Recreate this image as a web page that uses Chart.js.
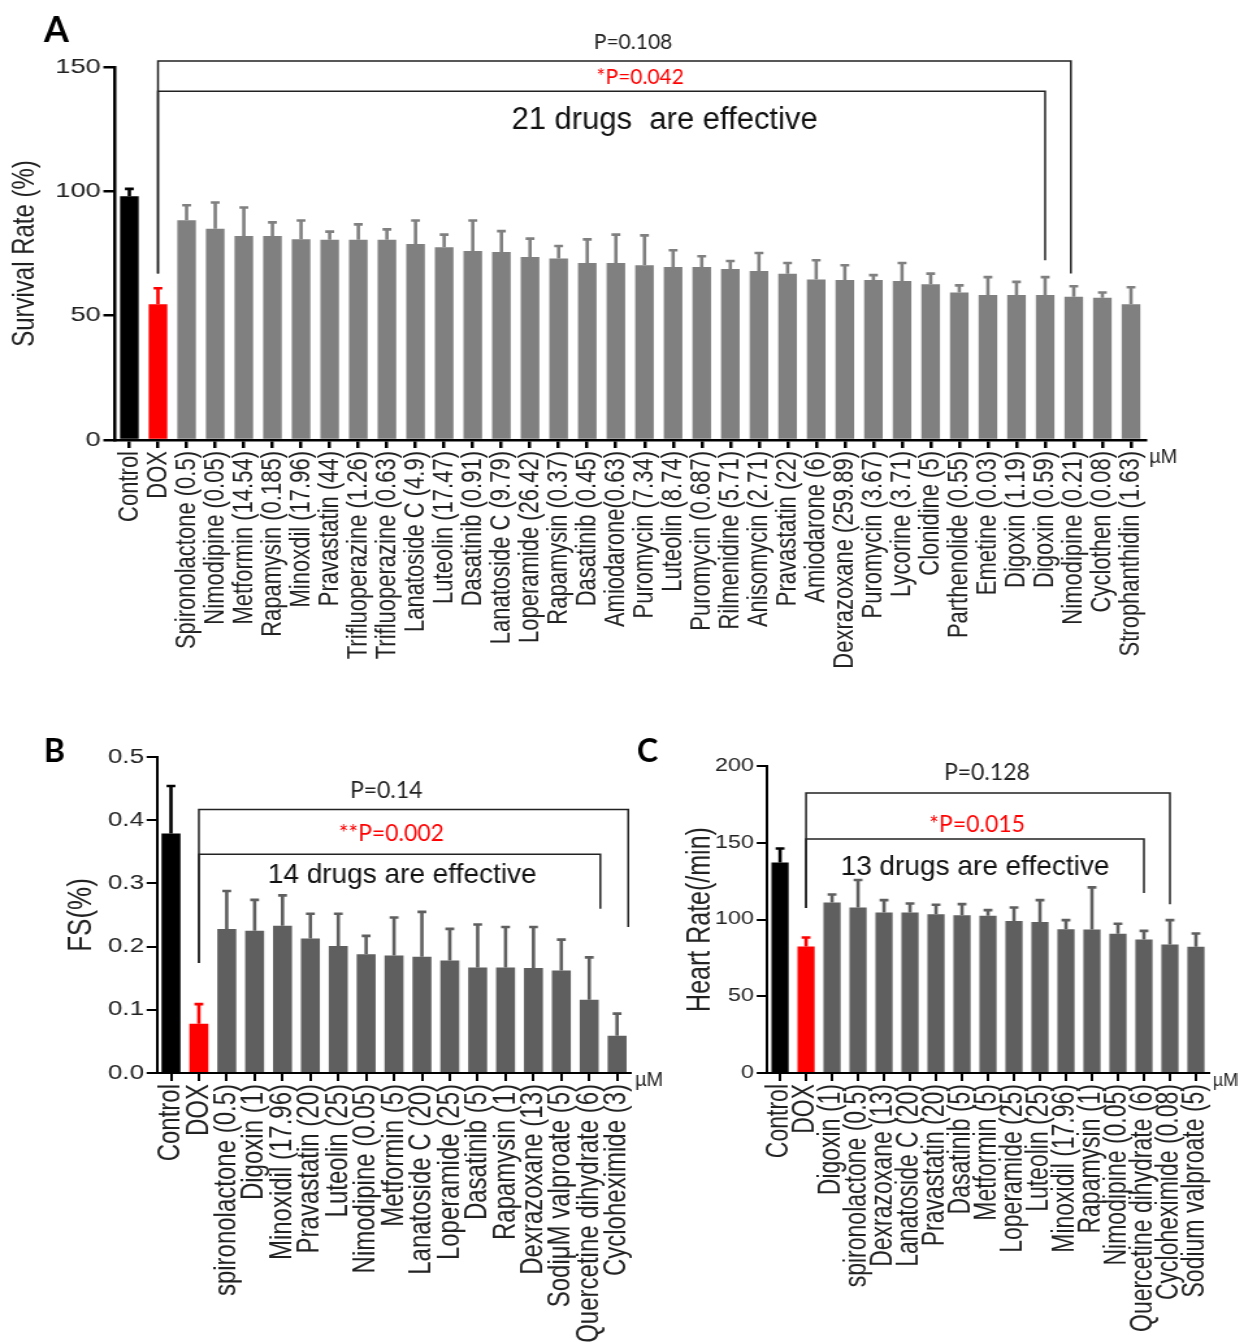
<!DOCTYPE html>
<html>
<head>
<meta charset="utf-8">
<title>Drug screen - survival, FS and heart rate</title>
<script src="https://cdn.jsdelivr.net/npm/chart.js@4.4.0/dist/chart.umd.min.js"></script>
<style>
  body { margin: 0; background: #fff; }
  #wrap { position: relative; width: 1238px; height: 1342px; overflow: hidden; background: #fff; }
  /* the original figure is stretched sideways, so the canvases are too */
  canvas { position: absolute; transform: scaleX(1.3); transform-origin: 0 0; }
</style>
</head>
<body>
<div id="wrap">
  <canvas id="chartA" width="952" height="700" style="left:0px;top:0px"></canvas>
  <canvas id="chartB" width="538" height="642" style="left:0px;top:700px"></canvas>
  <canvas id="chartC" width="475" height="642" style="left:620px;top:700px"></canvas>
</div>
<script>
const S = 1.3; // horizontal stretch set in the css above

// ---- panel A : survival rate ----
const labelsA = ['Control', 'DOX', 'Spironolactone (0.5)', 'Nimodipine (0.05)', 'Metformin (14.54)',
  'Rapamysin (0.185)', 'Minoxdil (17.96)', 'Pravastatin (44)', 'Trifluoperazine (1.26)',
  'Trifluoperazine (0.63)', 'Lanatoside C (4.9)', 'Luteolin (17.47)', 'Dasatinib (0.91)',
  'Lanatoside C (9.79)', 'Loperamide (26.42)', 'Rapamysin (0.37)', 'Dasatinib (0.45)',
  'Amiodarone(0.63)', 'Puromycin (7.34)', 'Luteolin (8.74)', 'Puromycin (0.687)',
  'Rilmenidine (5.71)', 'Anisomycin (2.71)', 'Pravastatin (22)', 'Amiodarone (6)',
  'Dexrazoxane (259.89)', 'Puromycin (3.67)', 'Lycorine (3.71)', 'Clonidine (5)',
  'Parthenolide (0.55)', 'Emetine (0.03)', 'Digoxin (1.19)', 'Digoxin (0.59)',
  'Nimodipine (0.21)', 'Cyclothen (0.08)', 'Strophanthidin (1.63)'];
const survivalA = [98, 54.6, 88.4, 85, 82, 82, 80.7, 80.5, 80.5, 80.5, 78.8, 77.5, 76, 75.6, 73.6, 73,
  71.2, 71.2, 70.3, 69.6, 69.6, 68.8, 68, 66.9, 64.5, 64.3, 64.3, 63.9, 62.6, 59.3, 58.3, 58.3, 58.3,
  57.6, 57.2, 54.6];
const survivalSdA = [3, 6.4, 6, 10.5, 11.5, 5.5, 7.6, 3.3, 6.2, 4.2, 9.5, 5.1, 12.3, 8.4, 7.4, 5,
  9.5, 11.4, 12, 6.7, 4.3, 3.2, 7.2, 4.3, 7.8, 6, 2, 7.3, 4.3, 2.9, 7.2, 5.3, 7.2, 4.2, 2.1, 6.8];
const ticksA = [0, 50, 100, 150];

// ---- panel B : fractional shortening ----
const labelsB = ['Control', 'DOX', 'spironolactone (0.5)', 'Digoxin (1)', 'Minoxidil (17.96)',
  'Pravastatin (20)', 'Luteolin (25)', 'Nimodipine (0.05)', 'Metformin (5)', 'Lanatoside C (20)',
  'Loperamide (25)', 'Dasatinib (5)', 'Rapamysin (1)', 'Dexrazoxane (13)', 'SodiμM valproate (5)',
  'Quercetine dihydrate (6)', 'Cycloheximide (3)'];
const fsB = [0.379, 0.078, 0.228, 0.225, 0.233, 0.213, 0.201, 0.188, 0.186, 0.184, 0.178, 0.167,
  0.167, 0.166, 0.162, 0.116, 0.059];
const fsSdB = [0.075, 0.031, 0.06, 0.049, 0.048, 0.039, 0.051, 0.029, 0.06, 0.071, 0.05, 0.068,
  0.064, 0.065, 0.049, 0.067, 0.035];
const ticksB = [0, 0.1, 0.2, 0.3, 0.4, 0.5];

// ---- panel C : heart rate ----
const labelsC = ['Control', 'DOX', 'Digoxin (1)', 'spironolactone (0.5)', 'Dexrazoxane (13)',
  'Lanatoside C (20)', 'Pravastatin (20)', 'Dasatinib (5)', 'Metformin (5)', 'Loperamide (25)',
  'Luteolin (25)', 'Minoxidil (17.96)', 'Rapamysin (1)', 'Nimodipine (0.05)',
  'Quercetine dihydrate (6)', 'Cycloheximide (0.08)', 'Sodium valproate (5)'];
const heartC = [137.2, 82.4, 111.1, 107.8, 104.6, 104.6, 103.5, 102.8, 102.4, 99.1, 98.3, 93.7,
  93.5, 90.7, 87, 83.7, 82.2];
const heartSdC = [9.1, 5.9, 5.2, 17.9, 8, 5.8, 6.1, 7.2, 3.7, 8.7, 14.3, 5.9, 27.4, 6.5, 5.6, 15.9, 8.7];
const ticksC = [0, 50, 100, 150, 200];

// comparison brackets: [from bar, to bar, level, left drop, right drop]
const bracketsA = [[1, 32.9, 152.4, 67, 67], [1, 32, 140.2, 67, 72.3]];
const bracketsB = [[1, 16.4, 0.417, 0.174, 0.231], [1, 15.4, 0.346, 0.174, 0.26]];
const bracketsC = [[1, 15, 182.4, 107.5, 110], [1, 14, 152.4, 107.5, 117.3]];

const notesA = ['P=0.108', '*P=0.042', '21 drugs  are effective'];
const notesB = ['P=0.14', '**P=0.002', '14 drugs are effective'];
const notesC = ['P=0.128', '*P=0.015', '13 drugs are effective'];

Chart.defaults.font.family = '"Liberation Sans", Arial, sans-serif';
Chart.defaults.color = '#222';

// text drawn here was not stretched in the original, so undo the css stretch
function plainText(ctx, t, x, y) {
  ctx.save();
  ctx.translate(x, y);
  ctx.scale(1 / S, 1);
  ctx.fillText(t, 0, 0);
  ctx.restore();
}

function makePanel(id, p) {
  const colors = p.values.map((v, i) => i === 0 ? '#000000' : (i === 1 ? '#ff0000' : p.gray));

  const extras = {
    id: 'extras',
    afterDatasetsDraw(chart) {
      const ctx = chart.ctx;
      const y = chart.scales.y;
      const meta = chart.getDatasetMeta(0);
      ctx.save();
      ctx.lineWidth = 2.6;
      meta.data.forEach((bar, i) => {
        const top = y.getPixelForValue(p.values[i] + p.sd[i]);
        ctx.strokeStyle = colors[i];
        ctx.beginPath();
        ctx.moveTo(bar.x, bar.y);
        ctx.lineTo(bar.x, top);
        ctx.moveTo(bar.x - 3.4, top);
        ctx.lineTo(bar.x + 3.4, top);
        ctx.stroke();
      });
      ctx.restore();
    },
    afterDraw(chart) {
      const ctx = chart.ctx;
      const x = chart.scales.x;
      const y = chart.scales.y;
      const area = chart.chartArea;
      ctx.save();
      // brackets
      ctx.strokeStyle = '#222';
      ctx.lineWidth = 1.5;
      p.brackets.forEach(b => {
        const x0 = x.getPixelForValue(b[0]);
        const x1 = x.getPixelForValue(b[1]);
        const yl = y.getPixelForValue(b[2]);
        ctx.beginPath();
        ctx.moveTo(x0, y.getPixelForValue(b[3]));
        ctx.lineTo(x0, yl);
        ctx.lineTo(x1, yl);
        ctx.lineTo(x1, y.getPixelForValue(b[4]));
        ctx.stroke();
      });
      // p values and summary text
      ctx.textAlign = 'center';
      ctx.textBaseline = 'middle';
      p.notes.forEach((t, i) => {
        const pos = p.notePos[i];
        if (i === 2) {
          ctx.font = p.bigFont + 'px "Liberation Sans", Arial';
          ctx.fillStyle = '#111';
        } else {
          ctx.font = p.pFont + 'px Lato, "Open Sans"';
          ctx.fillStyle = i === 1 ? '#ff0000' : '#222';
        }
        plainText(ctx, t, x.getPixelForValue(pos[0]), y.getPixelForValue(pos[1]));
      });
      // unit at end of x axis
      ctx.font = p.unitFont + 'px "Liberation Sans", Arial';
      ctx.fillStyle = '#222';
      ctx.textAlign = 'left';
      plainText(ctx, 'µM', area.right + 3, area.bottom + p.unitDy);
      // panel letter
      ctx.font = 'bold ' + p.letterSize + 'px Lato, "Open Sans"';
      ctx.fillStyle = '#000';
      ctx.textBaseline = 'alphabetic';
      plainText(ctx, p.letter, p.letterAt[0] / S, p.letterAt[1]);
      ctx.restore();
    }
  };

  return new Chart(document.getElementById(id), {
    type: 'bar',
    data: {
      labels: p.labels,
      datasets: [{
        data: p.values,
        backgroundColor: colors,
        borderWidth: 0,
        barPercentage: 1,
        categoryPercentage: p.barFrac
      }]
    },
    options: {
      responsive: false,
      animation: false,
      devicePixelRatio: 1,
      layout: { padding: p.pad },
      plugins: { legend: { display: false }, tooltip: { enabled: false } },
      scales: {
        x: {
          grid: { offset: false, drawOnChartArea: false, tickLength: 8, color: '#000', lineWidth: p.axisW },
          border: { color: '#000', width: p.axisW },
          ticks: { autoSkip: false, minRotation: 90, maxRotation: 90, padding: 3,
                   font: { size: p.xFont }, color: '#222' },
          afterFit(s) { s.height = p.xHeight; }
        },
        y: {
          min: 0,
          max: p.ticks[p.ticks.length - 1],
          afterBuildTicks(s) { s.ticks = p.ticks.map(v => ({ value: v })); },
          grid: { drawOnChartArea: false, tickLength: p.yTick, color: '#000', lineWidth: p.axisW },
          border: { color: '#000', width: p.axisW },
          ticks: { padding: 2, font: { size: p.yFont }, color: '#222',
                   callback: v => p.decimals ? v.toFixed(p.decimals) : v },
          title: { display: true, text: p.yTitle, color: '#222', font: { size: p.titleSize },
                   padding: { top: p.titlePad, bottom: 0 } },
          afterFit(s) { s.width = p.yWidth; }
        }
      }
    },
    plugins: [extras]
  });
}

window.onload = function () {
  makePanel('chartA', {
    labels: labelsA, values: survivalA, sd: survivalSdA, ticks: ticksA, decimals: 0,
    gray: '#808080', barFrac: 0.65, axisW: 2.5, yTick: 9,
    pad: { left: 0, top: 67, right: 71, bottom: 0 }, yWidth: 88.5, xHeight: 260,
    xFont: 22, yFont: 21, yTitle: 'Survival Rate (%)', titleSize: 24, titlePad: 5,
    brackets: bracketsA, notes: notesA, notePos: [[17.6, 160], [17.85, 146], [18.7, 128.7]],
    pFont: 21, bigFont: 31, unitFont: 20, unitDy: 17, letter: 'A', letterSize: 36, letterAt: [44, 42]
  });
  makePanel('chartB', {
    labels: labelsB, values: fsB, sd: fsSdB, ticks: ticksB, decimals: 1,
    gray: '#5f5f5f', barFrac: 0.68, axisW: 2, yTick: 8,
    pad: { left: 0, top: 57, right: 52.6, bottom: 0 }, yWidth: 120.8, xHeight: 269,
    xFont: 24, yFont: 20, yTitle: 'FS(%)', titleSize: 26, titlePad: 47,
    brackets: bracketsB, notes: notesB, notePos: [[7.72, 0.447], [7.9, 0.379], [8.29, 0.313]],
    pFont: 23, bigFont: 28, unitFont: 20, unitDy: 7, letter: 'B', letterSize: 32, letterAt: [44, 62]
  });
  makePanel('chartC', {
    labels: labelsC, values: heartC, sd: heartSdC, ticks: ticksC, decimals: 0,
    gray: '#5f5f5f', barFrac: 0.66, axisW: 2, yTick: 8,
    pad: { left: 0, top: 66, right: 22, bottom: 0 }, yWidth: 113.1, xHeight: 269,
    xFont: 23, yFont: 18, yTitle: 'Heart Rate(/min)', titleSize: 25, titlePad: 47,
    brackets: bracketsC, notes: notesC, notePos: [[7.96, 195.4], [7.58, 161.6], [7.5, 134.2]],
    pFont: 23, bigFont: 28, unitFont: 18, unitDy: 8, letter: 'C', letterSize: 32, letterAt: [17, 62]
  });
};
</script>
</body>
</html>
